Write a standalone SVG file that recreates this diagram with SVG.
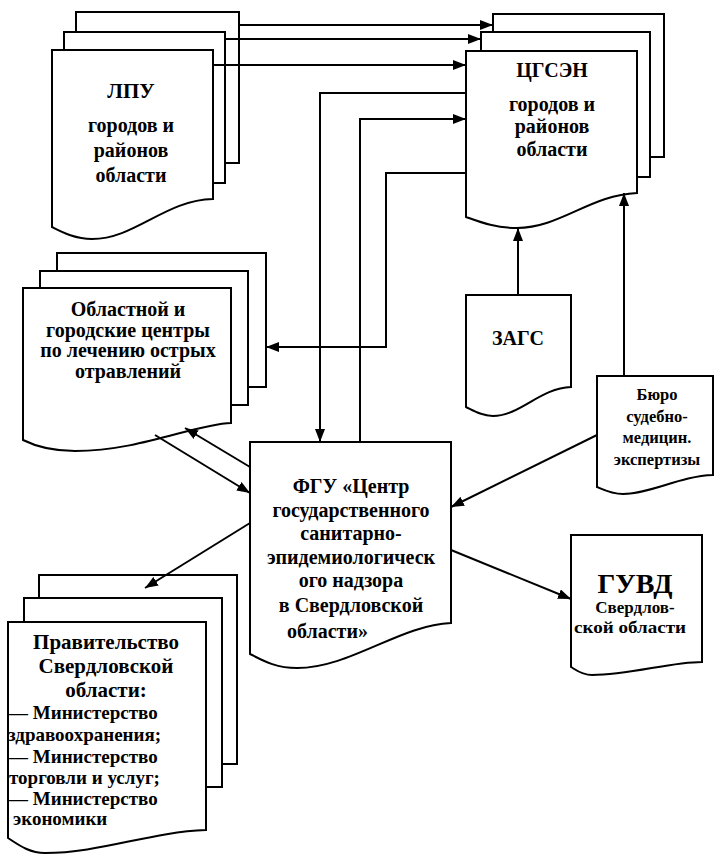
<svg xmlns="http://www.w3.org/2000/svg" width="715" height="855" viewBox="0 0 715 855">
<style>
.pg{fill:#fff;stroke:#000;stroke-width:2;stroke-linejoin:miter}
.ln{fill:none;stroke:#000;stroke-width:2}
.t{font-family:"Liberation Serif","Times New Roman",serif;font-weight:bold;fill:#000;text-anchor:middle}
.s{text-anchor:start}
</style>
<defs>
<marker id="ah" markerUnits="userSpaceOnUse" markerWidth="14" markerHeight="10" refX="13" refY="5" orient="auto">
<path d="M0,0 L13,5 L0,10 z" fill="#000"/>
</marker>
</defs>
<rect width="715" height="855" fill="#fff"/>

<g id="lpu">
<rect class="pg" x="76" y="12" width="163" height="151"/>
<rect class="pg" x="64" y="32" width="161" height="151"/>
<path class="pg" d="M52,50 H213 V199 C165,200 135,239 92,239 C75,239 62,232 52,227 Z"/>
<text class="t" x="131" y="98" font-size="21">ЛПУ</text>
<text class="t" x="131" y="132" font-size="20">городов и</text>
<text class="t" x="131" y="157" font-size="20">районов</text>
<text class="t" x="131" y="182" font-size="20">области</text>
</g>

<g id="cgsen">
<rect class="pg" x="493" y="14" width="171" height="143"/>
<rect class="pg" x="481" y="32" width="169" height="145"/>
<path class="pg" d="M466,51 H637 V193 C590,195 560,228 517,228 C495,228 480,222 466,217 Z"/>
<text class="t" x="552" y="77" font-size="20">ЦГСЭН</text>
<text class="t" x="552" y="111" font-size="20">городов и</text>
<text class="t" x="552" y="133" font-size="20">районов</text>
<text class="t" x="552" y="156" font-size="20">области</text>
</g>

<g id="centers">
<rect class="pg" x="57" y="253" width="209" height="134"/>
<rect class="pg" x="40" y="271" width="208" height="134"/>
<path class="pg" d="M23,288 H231 V423 C195,424 140,451 75,451 C50,451 35,446 23,440 Z"/>
<text class="t" x="128" y="316" font-size="20">Областной и</text>
<text class="t" x="128" y="337" font-size="20">городские центры</text>
<text class="t" x="128" y="357" font-size="20">по лечению острых</text>
<text class="t" x="128" y="378" font-size="20">отравлений</text>
</g>

<g id="zags">
<path class="pg" d="M466,295 H571 V387 C540,388 520,416 493,416 C482,416 474,411 466,407 Z"/>
<text class="t" x="518" y="345" font-size="20">ЗАГС</text>
</g>

<g id="buro">
<path class="pg" d="M597,376 H713 V475 C680,476 650,494 623,494 C612,494 604,490 597,487 Z"/>
<text class="t" x="657" y="400" font-size="16.5">Бюро</text>
<text class="t" x="657" y="422" font-size="16.5">судебно-</text>
<text class="t" x="657" y="443" font-size="16.5">медицин.</text>
<text class="t" x="657" y="465" font-size="16.5">экспертизы</text>
</g>

<g id="fgu">
<path class="pg" d="M250,442 H451 V623 C400,625 350,668 297,668 C275,668 262,660 250,654 Z"/>
<text class="t" x="351" y="493" font-size="20">ФГУ «Центр</text>
<text class="t" x="351" y="517" font-size="20">государственного</text>
<text class="t" x="351" y="540" font-size="20">санитарно-</text>
<text class="t" x="351" y="564" font-size="20">эпидемиологическ</text>
<text class="t" x="351" y="587" font-size="20">ого надзора</text>
<text class="t" x="351" y="612" font-size="20">в Свердловской</text>
<text class="t s" x="287" y="638" font-size="20">области»</text>
</g>

<g id="guvd">
<path class="pg" d="M571,535 H702 V662 C670,662 630,675 592,675 C582,675 576,670 571,667 Z"/>
<text class="t" x="635" y="593" font-size="28">ГУВД</text>
<text class="t" x="635" y="613" font-size="17">Свердлов-</text>
<text class="t" x="630" y="633" font-size="17" textLength="112" lengthAdjust="spacingAndGlyphs">ской области</text>
</g>

<g id="gov">
<rect class="pg" x="39" y="575" width="198" height="189"/>
<rect class="pg" x="24" y="598" width="198" height="189"/>
<path class="pg" d="M8,622 H206 V830 C150,832 100,853 45,853 C28,853 16,843 8,838 Z"/>
<text class="t" x="106" y="649" font-size="21">Правительство</text>
<text class="t" x="106" y="673" font-size="21">Свердловской</text>
<text class="t" x="106" y="697" font-size="21">области:</text>
<text class="t s" x="9" y="719" font-size="19">— Министерство</text>
<text class="t s" x="8" y="741" font-size="19">здравоохранения;</text>
<text class="t s" x="9" y="763" font-size="19">— Министерство</text>
<text class="t s" x="9" y="784" font-size="19">торговли и услуг;</text>
<text class="t s" x="9" y="805" font-size="19">— Министерство</text>
<text class="t s" x="13" y="825" font-size="19">экономики</text>
</g>

<g id="connectors">
<path class="ln" d="M239,25 H493" marker-end="url(#ah)"/>
<path class="ln" d="M225,39 H481" marker-end="url(#ah)"/>
<path class="ln" d="M213,65 H466" marker-end="url(#ah)"/>
<path class="ln" d="M466,93 H320 V442" marker-end="url(#ah)"/>
<path class="ln" d="M360,442 V119 H466" marker-end="url(#ah)"/>
<path class="ln" d="M466,173 H386 V347 H266" marker-end="url(#ah)"/>
<path class="ln" d="M518,295 V228" marker-end="url(#ah)"/>
<path class="ln" d="M624,376 V193" marker-end="url(#ah)"/>
<path class="ln" d="M597,435 L451,507" marker-end="url(#ah)"/>
<path class="ln" d="M451,550 L571,599" marker-end="url(#ah)"/>
<path class="ln" d="M250,467 L185,428" marker-end="url(#ah)"/>
<path class="ln" d="M155,435 L250,493" marker-end="url(#ah)"/>
<path class="ln" d="M250,523 L145,588" marker-end="url(#ah)"/>
</g>
</svg>
